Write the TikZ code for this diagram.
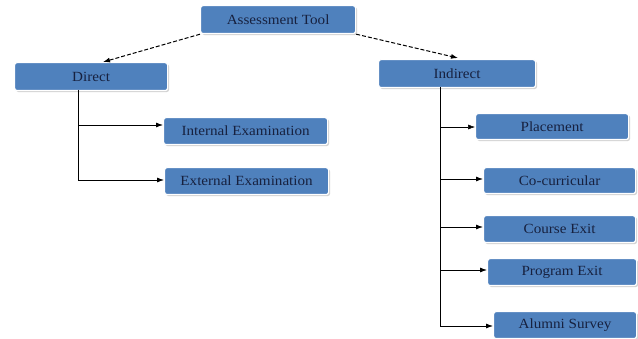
\documentclass[tikz,border=0pt]{standalone}
\usepackage{fontspec}
\setmainfont{Liberation Serif}
\usetikzlibrary{shadows,arrows.meta}
\definecolor{boxblue}{HTML}{4F81BD}
\definecolor{textnavy}{HTML}{17213F}
\newcommand{\wtext}[1]{\scalebox{1.08}[1]{#1}}
\tikzset{
  box/.style={draw=white, line width=1.2pt, fill=boxblue, rounded corners=2.5pt,
    drop shadow={shadow xshift=1.5pt, shadow yshift=-1.5pt, fill=black!35},
    text=textnavy, font=\fontsize{14}{15}\selectfont, inner sep=0pt, anchor=north west},
  conn/.style={line width=0.8pt, -{Latex[length=7pt,width=5pt]}},
  dconn/.style={conn, dash pattern=on 4pt off 2pt, line width=1pt},
  trunk/.style={line width=0.8pt}
}
\begin{document}
\begin{tikzpicture}[x=1pt,y=-1pt]
\useasboundingbox (0,0) rectangle (638,339);
\node[box, minimum width=155pt, minimum height=28pt] (at) at (200,5) {\wtext{Assessment Tool}};
\node[box, minimum width=153pt, minimum height=28pt] (di) at (14,62) {\wtext{Direct}};
\node[box, minimum width=164pt, minimum height=27pt] (ie) at (163,117) {\wtext{Internal Examination}};
\node[box, minimum width=164pt, minimum height=27pt] (ee) at (164,167) {\wtext{External Examination}};
\node[box, minimum width=157pt, minimum height=28pt] (in) at (378,59) {\wtext{Indirect}};
\node[box, minimum width=153pt, minimum height=26pt] (pl) at (475,113) {\wtext{Placement}};
\node[box, minimum width=152pt, minimum height=26pt] (cc) at (483,167) {\wtext{Co-curricular}};
\node[box, minimum width=152pt, minimum height=27pt] (ce) at (483,215) {\wtext{Course Exit}};
\node[box, minimum width=149pt, minimum height=27pt] (pe) at (487,258) {\wtext{Program Exit}};
\node[box, minimum width=143pt, minimum height=27pt] (as) at (493,311) {\wtext{Alumni Survey}};

\draw[dconn] (at.south west) -- (103,62);
\draw[dconn] (at.south east) -- (458,58);

\coordinate (dtop) at (78,90);
\coordinate (dbot) at (78,180);
\draw[trunk] (dtop) -- (dbot);
\draw[conn] (78,125) -- (ie.west|-78,125);
\draw[conn] (dbot) -- (ee.west|-78,180);

\coordinate (itop) at (440,87);
\coordinate (ibot) at (440,326);
\draw[trunk] (itop) -- (ibot);
\draw[conn, line width=0.5pt] (440,127) -- (pl.west|-440,127);
\draw[conn] (440,179) -- (cc.west|-440,179);
\draw[conn] (440,227) -- (ce.west|-440,227);
\draw[conn] (440,270) -- (pe.west|-440,270);
\draw[conn] (ibot) -- (as.west|-440,326);
\end{tikzpicture}
\end{document}
